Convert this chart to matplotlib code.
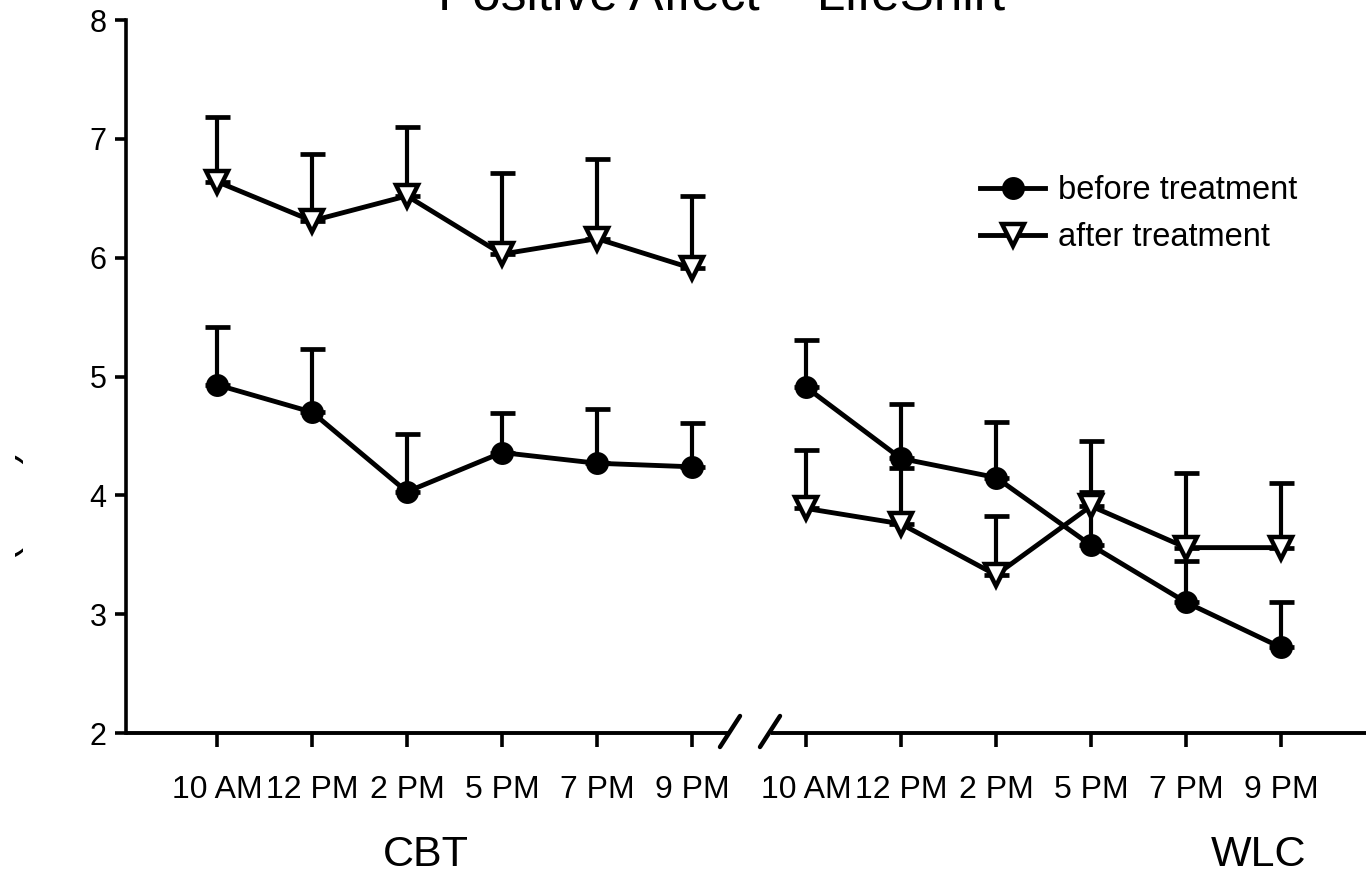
import numpy as np
import matplotlib
matplotlib.use("Agg")
import matplotlib.pyplot as plt
from matplotlib.patches import Rectangle
from matplotlib.transforms import blended_transform_factory

plt.rcParams['font.family'] = ['Liberation Sans', 'DejaVu Sans']

times = ["10 AM", "12 PM", "2 PM", "5 PM", "7 PM", "9 PM"]
groups = ["CBT", "WLC"]

cbt_before = [4.93, 4.70, 4.03, 4.36, 4.27, 4.24]
cbt_before_top = [5.42, 5.23, 4.52, 4.69, 4.73, 4.61]
cbt_after = [6.64, 6.31, 6.52, 6.03, 6.16, 5.91]
cbt_after_top = [7.18, 6.87, 7.10, 6.71, 6.83, 6.52]

wlc_before = [4.91, 4.31, 4.15, 3.58, 3.10, 2.72]
wlc_before_top = [5.31, 4.77, 4.62, 4.03, 3.45, 3.10]
wlc_after = [3.89, 3.76, 3.33, 3.91, 3.56, 3.56]
wlc_after_top = [4.38, 4.23, 3.83, 4.46, 4.19, 4.10]

W, H = 1366, 888
fig = plt.figure(figsize=(W / 100, H / 100), dpi=100)
ax = fig.add_axes([126 / W, (H - 733) / H, (W - 126) / W, 713 / H])

x_cbt = np.arange(6)
x_wlc = np.arange(6) + 6.2

lw = 3.5
line_kw = dict(color="black", lw=lw, zorder=3)
before_mk = dict(marker="o", ms=15, mfc="black", mec="black", mew=1.5)
after_mk = dict(marker="v", ms=16, mfc="white", mec="black", mew=3.2)
err_kw = dict(fmt="none", ecolor="black", elinewidth=3, capsize=9, capthick=3.4, zorder=2)


def draw(x, mean, top, mk, label=None):
    mean = np.array(mean)
    top = np.array(top)
    ax.errorbar(x, mean, yerr=[np.zeros_like(mean), top - mean], **err_kw)
    ax.plot(x, mean, label=label, **line_kw, **mk)


draw(x_cbt, cbt_before, cbt_before_top, before_mk, "before treatment")
draw(x_cbt, cbt_after, cbt_after_top, after_mk, "after treatment")
draw(x_wlc, wlc_before, wlc_before_top, before_mk)
draw(x_wlc, wlc_after, wlc_after_top, after_mk)

xl = -(217 - 126) / 95
xr = (W - 217) / 95
ax.set_xlim(xl, xr)
ax.set_ylim(2, 8)

for s in ["top", "right", "bottom"]:
    ax.spines[s].set_visible(False)
ax.spines["left"].set_linewidth(2.6)

ax.set_yticks(range(2, 9))
ax.tick_params(axis="y", direction="out", length=8, width=2.6, labelsize=22, pad=6)
ax.set_xticks(np.concatenate([x_cbt, x_wlc]))
ax.set_xticklabels(times + times)
ax.tick_params(axis="x", direction="out", length=10, width=2.6, labelsize=23, pad=20)

# broken x axis
tr = blended_transform_factory(ax.transData, ax.transAxes)
def px(p):
    return (p - 217) / 95
ax.plot([xl, px(730)], [0, 0], color="black", lw=2.8, transform=tr, clip_on=False,
        solid_capstyle="butt")
ax.plot([px(771), xr], [0, 0], color="black", lw=2.8, transform=tr, clip_on=False,
        solid_capstyle="butt")
for a in (720, 760):
    ax.plot([px(a), px(a + 20)], [-14 / 713, 17 / 713], color="black", lw=3.2,
            transform=tr, clip_on=False, solid_capstyle="round")

ax.legend(loc="upper left", bbox_to_anchor=(980 / W, 1 - 175 / H),
          bbox_transform=fig.transFigure, frameon=False, fontsize=23.5,
          handlelength=2.0, handletextpad=0.4, labelspacing=0.5,
          borderpad=0, borderaxespad=0)

fig.text(722 / W, 1 - 9 / H, "Positive Affect \u2013 LifeShirt", fontsize=37,
         ha="center", va="baseline")
fig.text(426 / W, 1 - 855 / H, groups[0], fontsize=31, ha="center", va="center")
fig.text(1259 / W, 1 - 855 / H, groups[1], fontsize=31, ha="center", va="center")

# y label, mostly cut off at the left edge as in the reference
fig.text(15.5 / W, 1 - 450 / H, "Positive Affect (1 - 9)", fontsize=30, rotation=90,
         rotation_mode="anchor", ha="right", va="baseline")
fig.patches.append(Rectangle((0, 0), 15 / W, 1, transform=fig.transFigure,
                             facecolor="white", edgecolor="none", zorder=5))

fig.savefig("out.png", dpi=100)
